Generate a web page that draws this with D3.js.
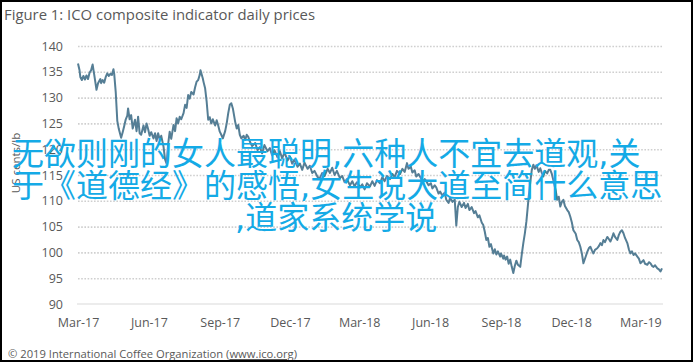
<!DOCTYPE html>
<html>
<head>
<meta charset="utf-8">
<script src="https://cdn.jsdelivr.net/npm/d3@7"></script>
<style>
  html, body { margin: 0; padding: 0; background: #fff; }
  svg { display: block; }
</style>
</head>
<body>
<svg id="chart" width="695" height="364"></svg>
<script>
// ---------------- data ----------------
const title = "Figure 1: ICO composite indicator daily prices";
const yLabel = "US cents/lb";
const creditPre = "\u00A9 2019 International Coffee Organization (";
const creditLink = "www.ico.org";
const creditPost = ")";
const overlayLines = [
  "无欲则刚的女人最聪明,六种人不宜去道观,关",
  "于《道德经》的感悟,女生说大道至简什么意思",
  ",道家系统学说"
];
const yTicks = [90, 95, 100, 105, 110, 115, 120, 125, 130, 135, 140];
const xTickDates = ["2017-03-01","2017-06-01","2017-09-01","2017-12-01","2018-03-01",
                    "2018-06-01","2018-09-01","2018-12-01","2019-03-01"];

const dates = [
  "2017-03-01","2017-03-03","2017-03-04","2017-03-06","2017-03-08","2017-03-10","2017-03-12","2017-03-14",
  "2017-03-16","2017-03-18","2017-03-20","2017-03-22","2017-03-24","2017-03-25","2017-03-27","2017-03-30","2017-03-31",
  "2017-04-02","2017-04-04","2017-04-06","2017-04-08","2017-04-10","2017-04-12","2017-04-14","2017-04-16","2017-04-17",
  "2017-04-19","2017-04-21","2017-04-23","2017-04-26","2017-04-28","2017-04-30",
  "2017-05-02","2017-05-04","2017-05-05","2017-05-07","2017-05-09","2017-05-11","2017-05-14","2017-05-16","2017-05-18",
  "2017-05-20","2017-05-22","2017-05-25","2017-05-27","2017-05-29","2017-05-31",
  "2017-06-02","2017-06-04","2017-06-07","2017-06-09","2017-06-11","2017-06-13","2017-06-15","2017-06-17","2017-06-20",
  "2017-06-22","2017-06-24","2017-06-26","2017-06-28","2017-06-30",
  "2017-07-03","2017-07-05","2017-07-07","2017-07-09","2017-07-11","2017-07-13","2017-07-16","2017-07-18","2017-07-20",
  "2017-07-22","2017-07-24","2017-07-26","2017-07-29","2017-07-31",
  "2017-08-02","2017-08-04","2017-08-06","2017-08-07","2017-08-10","2017-08-11","2017-08-13","2017-08-15","2017-08-17",
  "2017-08-19","2017-08-21","2017-08-23","2017-08-26","2017-08-28","2017-08-30",
  "2017-09-01","2017-09-03","2017-09-05","2017-09-08","2017-09-10","2017-09-12","2017-09-14","2017-09-16","2017-09-18",
  "2017-09-21","2017-09-23","2017-09-25","2017-09-27","2017-09-29",
  "2017-10-02","2017-10-04","2017-10-06","2017-10-08","2017-10-10","2017-10-13","2017-10-17","2017-10-20","2017-10-23",
  "2017-10-26","2017-10-29",
  "2017-11-02","2017-11-05","2017-11-08","2017-11-11","2017-11-15","2017-11-18","2017-11-21","2017-11-24","2017-11-28",
  "2017-12-01","2017-12-04","2017-12-07","2017-12-11","2017-12-14","2017-12-17","2017-12-20","2017-12-24","2017-12-27","2017-12-30",
  "2018-01-02","2018-01-06","2018-01-09","2018-01-12","2018-01-15","2018-01-19","2018-01-22","2018-01-25","2018-01-28","2018-01-31",
  "2018-02-04","2018-02-07","2018-02-10","2018-02-13","2018-02-17","2018-02-20","2018-02-23","2018-02-26",
  "2018-03-02","2018-03-05","2018-03-08","2018-03-11","2018-03-15","2018-03-18","2018-03-21","2018-03-24","2018-03-28","2018-03-31",
  "2018-04-03","2018-04-06","2018-04-10","2018-04-13","2018-04-16","2018-04-19","2018-04-23","2018-04-26","2018-04-29",
  "2018-05-02","2018-05-04","2018-05-07","2018-05-09","2018-05-12","2018-05-14","2018-05-17","2018-05-20","2018-05-22",
  "2018-05-25","2018-05-27","2018-05-30",
  "2018-06-02","2018-06-04","2018-06-07","2018-06-09","2018-06-12","2018-06-14","2018-06-17","2018-06-20","2018-06-22",
  "2018-06-25","2018-06-27","2018-06-30",
  "2018-07-03","2018-07-05","2018-07-07","2018-07-09","2018-07-12","2018-07-15","2018-07-17","2018-07-20","2018-07-22",
  "2018-07-25","2018-07-28","2018-07-30",
  "2018-08-02","2018-08-04","2018-08-07","2018-08-09","2018-08-11","2018-08-13","2018-08-15","2018-08-17","2018-08-19",
  "2018-08-22","2018-08-24","2018-08-26","2018-08-28","2018-08-31",
  "2018-09-01","2018-09-04","2018-09-05","2018-09-07","2018-09-09","2018-09-11","2018-09-13","2018-09-15","2018-09-17",
  "2018-09-19","2018-09-21","2018-09-23","2018-09-26","2018-09-28","2018-09-30",
  "2018-10-02","2018-10-04","2018-10-07","2018-10-09","2018-10-11","2018-10-13","2018-10-15","2018-10-17","2018-10-20",
  "2018-10-22","2018-10-24","2018-10-26","2018-10-28","2018-10-31",
  "2018-11-02","2018-11-04","2018-11-06","2018-11-08","2018-11-11","2018-11-13","2018-11-15","2018-11-17","2018-11-19",
  "2018-11-21","2018-11-23","2018-11-26","2018-11-28","2018-11-30",
  "2018-12-02","2018-12-04","2018-12-07","2018-12-09","2018-12-11","2018-12-13","2018-12-15","2018-12-17","2018-12-20",
  "2018-12-22","2018-12-24","2018-12-26","2018-12-28","2018-12-30",
  "2019-01-01","2019-01-04","2019-01-06","2019-01-08","2019-01-10","2019-01-12","2019-01-14","2019-01-17","2019-01-19",
  "2019-01-21","2019-01-23","2019-01-25","2019-01-27","2019-01-30",
  "2019-02-01","2019-02-03","2019-02-05","2019-02-07","2019-02-09","2019-02-12","2019-02-14","2019-02-16","2019-02-18",
  "2019-02-20","2019-02-22","2019-02-25","2019-02-27",
  "2019-03-01","2019-03-03","2019-03-05","2019-03-07","2019-03-10","2019-03-12","2019-03-14","2019-03-16","2019-03-18",
  "2019-03-20","2019-03-23","2019-03-25","2019-03-27","2019-03-29"
];

const prices = [
  136.6,135.3,134.0,133.4,134.2,133.5,134.3,133.6,
  134.8,135.3,136.4,134.5,132.5,131.5,132.8,133.6,132.8,
  133.4,132.9,134.0,134.7,134.2,134.6,134.4,135.5,134.6,
  131.0,125.5,123.9,122.2,123.3,124.5,
  125.8,126.5,127.9,125.8,126.6,124.0,125.7,123.5,126.3,
  123.1,122.8,124.6,123.3,125.0,123.9,
  122.6,123.3,122.1,123.1,121.6,123.1,121.9,122.6,120.5,
  118.0,117.2,121.0,123.4,122.0,
  124.7,123.5,126.0,125.0,126.3,125.8,127.0,128.6,128.0,
  130.5,129.8,131.1,130.6,132.0,
  133.1,133.4,134.4,135.3,133.7,133.0,131.8,129.2,125.7,
  126.2,125.0,125.8,124.6,125.6,124.6,
  123.4,122.8,122.1,123.5,125.0,127.0,128.6,128.9,127.9,
  125.3,124.0,124.7,122.8,122.1,
  122.6,121.8,122.8,122.4,121.5,120.6,121.2,119.8,120.4,
  119.2,120.8,
  119.6,120.2,118.8,119.8,118.4,119.6,118.2,119.4,117.8,
  118.6,117.2,118.0,116.6,117.2,116.0,117.4,116.2,116.8,115.4,
  115.8,114.6,114.4,115.4,114.8,116.2,115.4,116.4,115.0,115.8,
  114.4,114.8,113.6,114.2,113.0,113.8,112.8,113.6,
  112.6,113.2,112.2,113.4,112.8,113.8,112.9,114.0,113.4,114.6,
  113.8,114.8,114.2,115.2,114.6,115.8,115.2,116.2,115.6,
  117.3,116.2,116.6,115.5,115.9,114.7,115.2,114.4,113.6,
  114.2,113.8,113.0,
  113.4,112.4,113.0,112.6,111.4,111.8,111.0,111.6,110.2,
  109.6,110.6,109.8,
  110.2,105.2,108.8,109.8,108.8,109.6,108.6,109.4,108.2,
  108.8,107.6,108.0,
  106.8,107.2,105.8,105.3,104.0,102.4,102.8,101.1,101.6,
  99.8,100.6,99.6,100.2,99.2,
  99.8,98.8,99.4,98.6,99.2,97.8,98.6,97.2,96.0,
  97.4,98.4,97.6,97.2,99.6,101.8,
  103.7,106.0,110.8,113.5,116.0,117.0,116.2,116.9,115.6,
  116.3,115.4,114.7,115.8,115.3,
  116.0,116.0,115.2,114.0,112.0,110.2,110.8,108.9,109.8,
  110.2,109.0,108.2,107.8,106.9,
  105.8,104.3,103.6,102.4,102.0,101.1,99.8,97.9,99.2,
  100.1,100.8,101.1,100.4,99.8,
  100.5,100.8,101.2,101.8,101.4,102.4,102.0,103.0,102.6,
  102.1,102.8,103.7,103.0,102.4,
  103.4,104.0,104.3,103.7,102.8,101.8,100.6,99.8,100.2,
  99.5,99.8,99.2,98.8,
  97.9,98.2,98.5,97.8,97.6,98.1,97.9,97.4,97.2,
  97.5,96.9,96.7,96.3,96.9
];

// ---------------- drawing ----------------
const parse = d3.timeParse("%Y-%m-%d");
const series = dates.map((d, i) => ({ date: parse(d), value: prices[i] }));

const svg = d3.select("#chart");
const W = 695, H = 364;
const plot = { left: 78, right: 662, top: 46, bottom: 304 };
const textGray = "#595959";
const font = "'Open Sans', 'Noto Sans', sans-serif";

svg.append("rect").attr("x", 0).attr("y", 0).attr("width", W).attr("height", H).attr("fill", "#fff");

const x = d3.scaleTime()
  .domain([series[0].date, series[series.length - 1].date])
  .range([plot.left, plot.right]);
const y = d3.scaleLinear().domain([90, 140]).range([plot.bottom, plot.top]);

// grid lines
const grid = svg.append("g")
  .attr("transform", `translate(${plot.left},0)`)
  .call(d3.axisLeft(y).tickValues(yTicks.filter(v => v > 90)).tickSize(-(plot.right + 1 - plot.left)).tickFormat(""));
grid.select(".domain").remove();
grid.selectAll(".tick line")
  .attr("stroke", "#cfcfcf").attr("stroke-width", 1.6).attr("stroke-dasharray", "1.6 1.6");

// baseline (90)
svg.append("line")
  .attr("x1", plot.left - 1).attr("x2", plot.right + 1)
  .attr("y1", y(90)).attr("y2", y(90))
  .attr("stroke", "#d9d9d9").attr("stroke-width", 1.2);

// y axis labels
const yAxis = svg.append("g")
  .attr("transform", `translate(63,0)`)
  .call(d3.axisLeft(y).tickValues(yTicks).tickSize(0).tickPadding(0));
yAxis.select(".domain").remove();
yAxis.selectAll("text")
  .attr("fill", textGray).style("font-family", font).style("font-size", "12.5px");

// x axis labels
const xAxis = svg.append("g")
  .attr("transform", `translate(0,${plot.bottom})`)
  .call(d3.axisBottom(x).tickValues(xTickDates.map(parse)).tickFormat(d3.timeFormat("%b-%y")).tickSize(0).tickPadding(14));
xAxis.select(".domain").remove();
xAxis.selectAll("text")
  .attr("fill", textGray).style("font-family", font).style("font-size", "12.5px");

// y label
svg.append("text")
  .attr("transform", "translate(20,163) rotate(-90)")
  .attr("text-anchor", "middle")
  .attr("fill", textGray)
  .style("font-family", font).style("font-size", "11.5px")
  .text(yLabel);

// price line
svg.append("path")
  .datum(series)
  .attr("fill", "none")
  .attr("stroke", "#557e95")
  .attr("stroke-width", 2)
  .attr("stroke-linejoin", "round")
  .attr("d", d3.line().x(d => x(d.date)).y(d => y(d.value)));

// title
svg.append("text")
  .attr("x", 4).attr("y", 20)
  .attr("fill", textGray)
  .style("font-family", font).style("font-size", "15px")
  .attr("textLength", 311).attr("lengthAdjust", "spacingAndGlyphs")
  .text(title);

// credit
const credit = svg.append("text")
  .attr("x", 8).attr("y", 358)
  .attr("fill", textGray)
  .style("font-family", font).style("font-size", "10.5px")
  .attr("textLength", 289).attr("lengthAdjust", "spacingAndGlyphs");
credit.append("tspan").text(creditPre);
credit.append("tspan").style("text-decoration", "underline").text(creditLink);
credit.append("tspan").text(creditPost);

// frame
svg.append("rect")
  .attr("x", 1).attr("y", 1).attr("width", 691).attr("height", 360)
  .attr("fill", "none").attr("stroke", "#000").attr("stroke-width", 2);

// overlay text (commas in a Latin font so they stay narrow)
const overlayX = [12, 12, 235];
const overlayY = [165, 197, 229];
const overlay = svg.append("g").selectAll("text")
  .data(overlayLines)
  .join("text")
  .attr("x", (d, i) => overlayX[i])
  .attr("y", (d, i) => overlayY[i])
  .attr("fill", "#14aae6")
  .style("font-family", "'Noto Sans CJK SC', sans-serif")
  .style("font-size", "32px");
overlay.each(function (line) {
  const t = d3.select(this);
  line.split(/(,)/).filter(s => s.length).forEach(seg => {
    const sp = t.append("tspan").text(seg);
    if (seg === ",") sp.style("font-family", "'DejaVu Sans', sans-serif");
  });
});
</script>
</body>
</html>
